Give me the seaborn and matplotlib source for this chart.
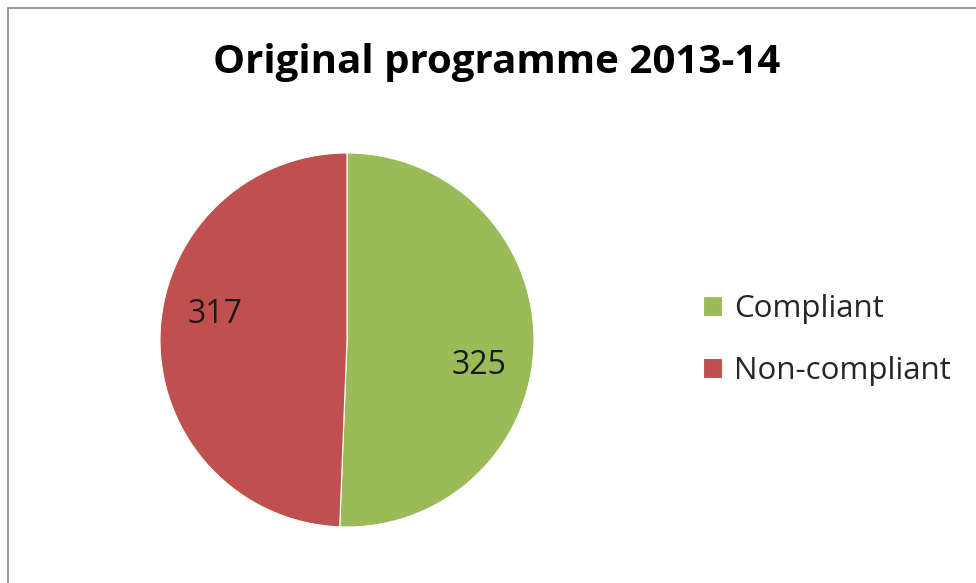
import numpy as np
import matplotlib
matplotlib.use("Agg")
import matplotlib.pyplot as plt
import seaborn as sns
from matplotlib.patches import Rectangle

# --- DATA ---
categories = ["Compliant", "Non-compliant"]
counts = [325, 317]
colors = ["#9BBB59", "#C0504D"]
title = "Original programme 2013-14"

sns.set_theme(style="white")
plt.rcParams["font.family"] = ["Open Sans", "DejaVu Sans"]

fig = plt.figure(figsize=(9.76, 5.83), dpi=100)
fig.patch.set_facecolor("white")

# pie area (square in pixels)
ax = fig.add_axes([160 / 976, 56 / 583, 374 / 976, 374 / 583])

total = sum(counts)
wedges, texts, autotexts = ax.pie(
    counts,
    colors=colors,
    startangle=90,
    counterclock=False,
    autopct=lambda p: f"{round(p * total / 100):d}",
    pctdistance=0.72,
    wedgeprops={"edgecolor": "white", "linewidth": 0.8},
    textprops={"fontsize": 23, "color": "#1a1a1a"},
)
ax.set_xlim(-1, 1)
ax.set_ylim(-1, 1)
ax.set_aspect("equal")

# Excel-style label placement: rotate a bit clockwise from the wedge middle
for w, t in zip(wedges, autotexts):
    ang = np.deg2rad((w.theta1 + w.theta2) / 2 - 10)
    t.set_position((0.72 * np.cos(ang), 0.72 * np.sin(ang)))

fig.text(497 / 976, 1 - 63 / 583, title, ha="center", va="center",
         fontsize=29, fontweight="bold", color="black")

fig.legend(wedges, categories, loc="center left",
           bbox_to_anchor=(703 / 976, 1 - 340 / 583),
           frameon=False, fontsize=22.5, handlelength=0.6, handleheight=0.6,
           labelspacing=1.0, handletextpad=0.4, borderpad=0, borderaxespad=0)

# chart border
fig.patches.append(Rectangle((8 / 976, -0.01), 1.0, 1 - 8 / 583 + 0.01,
                             transform=fig.transFigure, fill=False,
                             edgecolor="#888888", linewidth=1.2))

fig.savefig("out.png", dpi=100)
